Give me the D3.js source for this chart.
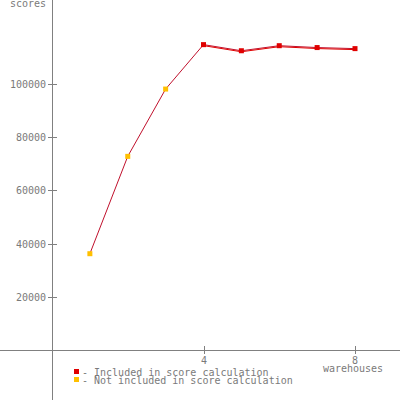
<!DOCTYPE html>
<html>
<head>
<meta charset="utf-8">
<script src="https://cdn.jsdelivr.net/npm/d3@7"></script>
<style>
  body { margin: 0; background: #fff; }
  text { font-family: "DejaVu Sans Mono", monospace; font-size: 10px; fill: #7a7a7a; }
</style>
</head>
<body>
<div id="chart"></div>
<script>
var warehouses = [1, 2, 3, 4, 5, 6, 7, 8];
var scores = [36200, 72800, 98100, 114800, 112500, 114400, 113700, 113300];
var included = [false, false, false, true, true, true, true, true];
var yTicks = [20000, 40000, 60000, 80000, 100000];
var xTicks = [4, 8];
var legendLabels = ["- Included in score calculation", "- Not included in score calculation"];

var width = 400, height = 400;
var svg = d3.select("#chart").append("svg")
    .attr("width", width)
    .attr("height", height);

var x = d3.scaleLinear().domain([0, 8]).range([52, 355]);
var y = d3.scaleLinear().domain([0, 100000]).range([350, 84]);

// axes
svg.append("line").attr("x1", x(0)).attr("x2", x(0)).attr("y1", 0).attr("y2", height)
    .attr("stroke", "#808080").attr("shape-rendering", "crispEdges");
svg.append("line").attr("x1", 0).attr("x2", width).attr("y1", y(0)).attr("y2", y(0))
    .attr("stroke", "#808080").attr("shape-rendering", "crispEdges");

var yt = svg.append("g").selectAll("g").data(yTicks).enter().append("g")
    .attr("transform", function(d) { return "translate(0," + Math.round(y(d)) + ")"; });
yt.append("line").attr("x1", x(0) - 4).attr("x2", x(0) + 5).attr("y1", 0.5).attr("y2", 0.5)
    .attr("stroke", "#808080");
yt.append("text").attr("x", 46).attr("y", 4).attr("text-anchor", "end")
    .text(function(d) { return d; });

var xt = svg.append("g").selectAll("g").data(xTicks).enter().append("g")
    .attr("transform", function(d) { return "translate(" + Math.round(x(d)) + ",0)"; });
xt.append("line").attr("x1", 0.5).attr("x2", 0.5).attr("y1", y(0) - 4).attr("y2", y(0) + 4)
    .attr("stroke", "#808080");
xt.append("text").attr("x", 0).attr("y", 364).attr("text-anchor", "middle")
    .text(function(d) { return d; });

svg.append("text").attr("x", 353).attr("y", 372).attr("text-anchor", "middle").text("warehouses");
svg.append("text").attr("x", 28).attr("y", 7).attr("text-anchor", "middle").text("scores");

var pts = warehouses.map(function(w, i) { return [w, scores[i], included[i]]; });

var line = d3.line()
    .x(function(d) { return x(d[0]); })
    .y(function(d) { return y(d[1]); });

svg.append("path").datum(pts).attr("d", line)
    .attr("fill", "none").attr("stroke", "#c0102c").attr("stroke-width", 1);
svg.append("path").datum(pts.filter(function(d) { return d[2]; })).attr("d", line)
    .attr("transform", "translate(0,1)")
    .attr("fill", "none").attr("stroke", "#e00000").attr("stroke-width", 1);

svg.append("g").selectAll("rect").data(pts).enter().append("rect")
    .attr("x", function(d) { return x(d[0]) - 2.5; })
    .attr("y", function(d) { return y(d[1]) - 2.5; })
    .attr("width", 5).attr("height", 5)
    .attr("fill", function(d) { return d[2] ? "#e00000" : "#ffc000"; });

// legend
var lg = svg.append("g").selectAll("g").data(legendLabels).enter().append("g")
    .attr("transform", function(d, i) { return "translate(74," + (369 + i * 8) + ")"; });
lg.append("rect").attr("width", 5).attr("height", 5)
    .attr("fill", function(d, i) { return i === 0 ? "#e00000" : "#ffc000"; });
lg.append("text").attr("x", 8).attr("y", 7).text(function(d) { return d; });
</script>
</body>
</html>
